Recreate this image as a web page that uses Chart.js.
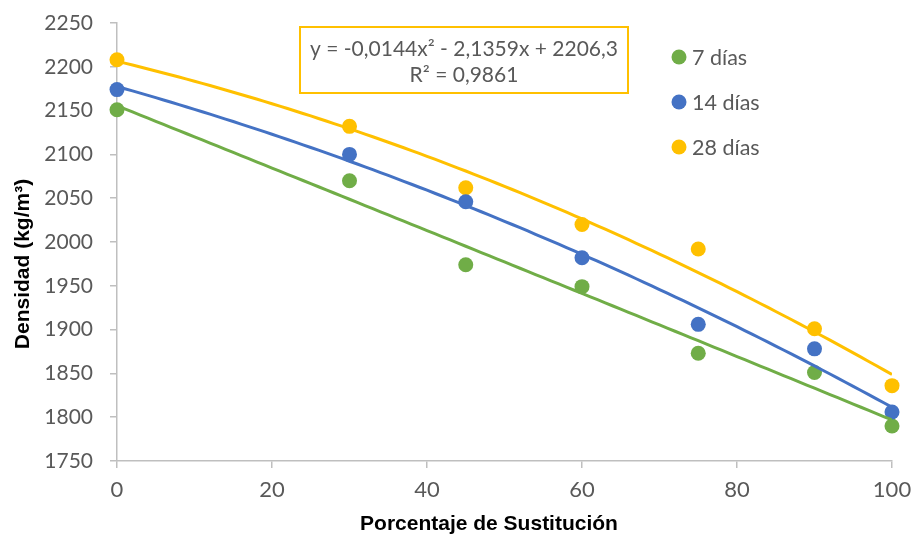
<!DOCTYPE html>
<html>
<head>
<meta charset="utf-8">
<script src="https://cdn.jsdelivr.net/npm/chart.js@4/dist/chart.umd.min.js"></script>
<style>
  html, body { margin: 0; padding: 0; background: #ffffff; }
  canvas { display: block; }
</style>
</head>
<body>
<canvas id="chart" width="913" height="540"></canvas>
<script>
// Porcentaje de sustitución (eje X)
const sustitucion = [0, 30, 45, 60, 75, 90, 100];

// Densidad medida a cada edad (kg/m³)
const dens7  = [2151, 2070, 1974, 1949, 1873, 1851, 1790];
const dens14 = [2174, 2100, 2046, 1982, 1906, 1878, 1806];
const dens28 = [2208, 2132, 2062, 2020, 1992, 1901, 1836];

const seriesLabels = ['7 días', '14 días', '28 días'];
const seriesColors = ['#70AD47', '#4472C4', '#FFC000'];

// Marcas y títulos de los ejes
const xTicks = [0, 20, 40, 60, 80, 100];
const yTicks = [1750, 1800, 1850, 1900, 1950, 2000, 2050, 2100, 2150, 2200, 2250];
const xTitle = 'Porcentaje de Sustitución';
const yTitle = 'Densidad (kg/m³)';

// Línea de tendencia polinómica de 28 días (coeficientes a, b, c de la etiqueta)
const trend28 = [-0.0144, -2.1359, 2206.3];
const trendText = ['y = -0,0144x² - 2,1359x + 2206,3', 'R² = 0,9861'];

// Ajuste por mínimos cuadrados de y = a·x² + b·x + c
function quadFit(xs, ys) {
  let s = [0, 0, 0, 0, 0], t = [0, 0, 0];
  xs.forEach((x, i) => {
    for (let k = 0; k <= 4; k++) s[k] += Math.pow(x, k);
    for (let k = 0; k <= 2; k++) t[k] += Math.pow(x, k) * ys[i];
  });
  // sistema normal para [c, b, a]
  const M = [
    [s[0], s[1], s[2], t[0]],
    [s[1], s[2], s[3], t[1]],
    [s[2], s[3], s[4], t[2]]
  ];
  for (let i = 0; i < 3; i++) {
    for (let j = i + 1; j < 3; j++) {
      const f = M[j][i] / M[i][i];
      for (let k = i; k < 4; k++) M[j][k] -= f * M[i][k];
    }
  }
  const r = [0, 0, 0];
  for (let i = 2; i >= 0; i--) {
    let v = M[i][3];
    for (let k = i + 1; k < 3; k++) v -= M[i][k] * r[k];
    r[i] = v / M[i][i];
  }
  return [r[2], r[1], r[0]];
}

function trendPoints(coef) {
  const pts = [];
  const x0 = sustitucion[0], x1 = sustitucion[sustitucion.length - 1];
  for (let x = x0; x <= x1; x += 1) {
    pts.push({ x: x, y: coef[0] * x * x + coef[1] * x + coef[2] });
  }
  return pts;
}

const toPoints = ys => sustitucion.map((x, i) => ({ x: x, y: ys[i] }));

const coef7 = quadFit(sustitucion, dens7);
const coef14 = quadFit(sustitucion, dens14);

const FONT = 'Lato, "Open Sans", sans-serif';
const TITLE_FONT = '"Liberation Sans", Arial, sans-serif';
const TEXT_GREY = '#595959';
const AXIS_GREY = '#BFBFBF';

function trendDataset(coef, color, order) {
  return {
    isTrend: true,
    data: trendPoints(coef),
    showLine: true,
    borderColor: color,
    borderWidth: 3,
    pointRadius: 0,
    pointHoverRadius: 0,
    tension: 0,
    order: order
  };
}

function pointDataset(label, ys, color, order) {
  return {
    label: label,
    data: toPoints(ys),
    showLine: false,
    backgroundColor: color,
    borderColor: color,
    borderWidth: 0,
    pointRadius: 7.5,
    pointHoverRadius: 7.5,
    clip: false,
    order: order
  };
}

// Títulos de los ejes
const axisTitles = {
  id: 'axisTitles',
  afterDraw(chart) {
    const ctx = chart.ctx;
    ctx.save();
    ctx.fillStyle = '#000000';
    ctx.font = 'bold 21px ' + TITLE_FONT;
    ctx.textAlign = 'center';
    ctx.textBaseline = 'middle';
    ctx.fillText(xTitle, 489, 524);
    ctx.translate(23, 264);
    ctx.rotate(-Math.PI / 2);
    ctx.fillText(yTitle, 0, 0);
    ctx.restore();
  }
};

// Recuadro con la ecuación de la tendencia
const equationBox = {
  id: 'equationBox',
  afterDraw(chart) {
    const ctx = chart.ctx;
    ctx.save();
    const left = 300, top = 27, w = 328, h = 66;
    ctx.fillStyle = '#ffffff';
    ctx.fillRect(left, top, w, h);
    ctx.strokeStyle = '#FFC000';
    ctx.lineWidth = 2;
    ctx.strokeRect(left, top, w, h);
    ctx.fillStyle = TEXT_GREY;
    ctx.font = '21px ' + FONT;
    ctx.textAlign = 'center';
    ctx.textBaseline = 'middle';
    ctx.fillText(trendText[0], left + w / 2, top + 22);
    ctx.fillText(trendText[1], left + w / 2, top + 48);
    ctx.restore();
  }
};

// Leyenda dentro del área de trazado
const sideLegend = {
  id: 'sideLegend',
  afterDraw(chart) {
    const ctx = chart.ctx;
    ctx.save();
    ctx.font = '21.5px ' + FONT;
    ctx.textAlign = 'left';
    ctx.textBaseline = 'middle';
    const items = chart.data.datasets.filter(d => !d.isTrend);
    items.forEach((d, i) => {
      const y = 57 + i * 45;
      ctx.fillStyle = d.backgroundColor;
      ctx.beginPath();
      ctx.arc(679, y, 7.5, 0, Math.PI * 2);
      ctx.fill();
      ctx.fillStyle = TEXT_GREY;
      ctx.fillText(d.label, 692, y + 1);
    });
    ctx.restore();
  }
};

new Chart(document.getElementById('chart'), {
  type: 'scatter',
  data: {
    datasets: [
      trendDataset(coef7, seriesColors[0], 2),
      trendDataset(coef14, seriesColors[1], 0),
      trendDataset(trend28, seriesColors[2], 1),
      pointDataset(seriesLabels[0], dens7, seriesColors[0], 5),
      pointDataset(seriesLabels[1], dens14, seriesColors[1], 3),
      pointDataset(seriesLabels[2], dens28, seriesColors[2], 4)
    ]
  },
  options: {
    responsive: false,
    animation: false,
    devicePixelRatio: 1,
    layout: { padding: { left: 0, right: 21, top: 23, bottom: 0 } },
    plugins: {
      legend: { display: false },
      tooltip: { enabled: false }
    },
    scales: {
      x: {
        type: 'linear',
        min: xTicks[0],
        max: xTicks[xTicks.length - 1],
        afterBuildTicks: s => { s.ticks = xTicks.map(v => ({ value: v })); },
        afterFit: s => {
          s.height = 79;
          s.paddingLeft = 0;
          s.paddingRight = 0;
        },
        ticks: {
          color: TEXT_GREY,
          font: { family: FONT, size: 22 },
          padding: 9,
          maxRotation: 0,
          callback: v => String(v)
        },
        grid: {
          drawOnChartArea: false,
          drawTicks: true,
          tickLength: 7,
          color: AXIS_GREY,
          lineWidth: 1.5
        },
        border: { display: true, color: AXIS_GREY, width: 1.5 },
        title: { display: false }
      },
      y: {
        type: 'linear',
        min: yTicks[0],
        max: yTicks[yTicks.length - 1],
        afterBuildTicks: s => { s.ticks = yTicks.map(v => ({ value: v })); },
        afterFit: s => {
          s.width = 117;
          s.paddingTop = 0;
          s.paddingBottom = 0;
        },
        ticks: {
          color: TEXT_GREY,
          font: { family: FONT, size: 21 },
          padding: 17,
          callback: v => String(v)
        },
        grid: {
          drawOnChartArea: false,
          drawTicks: true,
          tickLength: 7,
          color: AXIS_GREY,
          lineWidth: 1.5
        },
        border: { display: true, color: AXIS_GREY, width: 1.5 },
        title: { display: false }
      }
    }
  },
  plugins: [equationBox, sideLegend, axisTitles]
});
</script>
</body>
</html>
